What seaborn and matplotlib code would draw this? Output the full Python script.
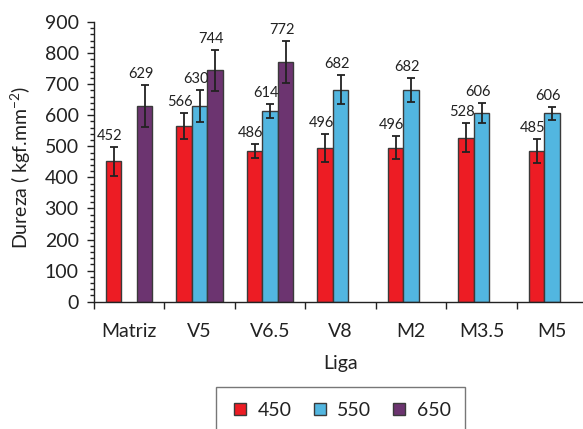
import matplotlib
matplotlib.use("Agg")
import matplotlib.pyplot as plt
from matplotlib.lines import Line2D
from matplotlib.ticker import MultipleLocator
import pandas as pd
import seaborn as sns

# Alloys on the x axis and the three treatment temperatures
ligas = ["Matriz", "V5", "V6.5", "V8", "M2", "M3.5", "M5"]
temps = ["450", "550", "650"]

# Hardness values (None = not measured) and error bar half-widths
dureza_450 = [452, 566, 486, 496, 496, 528, 485]
dureza_550 = [None, 630, 614, 682, 682, 606, 606]
dureza_650 = [629, 744, 772, None, None, None, None]
erro_450 = [46, 42, 23, 45, 38, 47, 40]
erro_550 = [None, 52, 23, 46, 38, 32, 20]
erro_650 = [68, 66, 68, None, None, None, None]

cores = ["#ED1C24", "#52B6E0", "#6C3470"]
borda = "#3a3a3a"

rows = []
for temp, vals, errs in zip(temps, [dureza_450, dureza_550, dureza_650],
                            [erro_450, erro_550, erro_650]):
    for liga, v, e in zip(ligas, vals, errs):
        if v is not None:
            rows.append({"Liga": liga, "Temp": temp, "Dureza": v, "Erro": e})
df = pd.DataFrame(rows)

sns.set_theme(style="white")
plt.rcParams["font.family"] = ["Lato", "DejaVu Sans"]
plt.rcParams["mathtext.fontset"] = "custom"
plt.rcParams["mathtext.rm"] = "Lato"
plt.rcParams["mathtext.it"] = "Lato"
plt.rcParams["mathtext.default"] = "regular"

fig = plt.figure(figsize=(5.83, 4.29), dpi=100)
ax = fig.add_axes([0.1612, 0.2967, 0.8465, 0.6520])

sns.barplot(data=df, x="Liga", y="Dureza", hue="Temp", order=ligas,
            hue_order=temps, palette=cores, saturation=1, width=0.66,
            errorbar=None, edgecolor=borda, linewidth=1.0, legend=False,
            ax=ax)

# Error bars and value labels, placed on each drawn bar
nh = len(temps)
bw = 0.66 / nh
for p in ax.patches:
    h = p.get_height()
    if h is None or h != h or h == 0:
        continue
    xc = p.get_x() + p.get_width() / 2
    ci = int(round(xc))
    hi = int(round((xc - ci) / bw + (nh - 1) / 2))
    sel = df[(df["Liga"] == ligas[ci]) & (df["Temp"] == temps[hi])]
    if sel.empty:
        continue
    err = float(sel["Erro"].iloc[0])
    val = int(sel["Dureza"].iloc[0])
    ax.errorbar(xc, h, yerr=err, fmt="none", ecolor="#222222",
                elinewidth=1.3, capsize=3, capthick=1.3, zorder=4)
    ax.annotate(str(val), (xc, h + err), xytext=(-4, 4),
                textcoords="offset pixels", ha="center", va="bottom",
                fontsize=10.5, color="#222222")

ax.set_xlim(-0.5, len(ligas) - 0.5)
ax.set_ylim(0, 900)
ax.yaxis.set_major_locator(MultipleLocator(100))
ax.yaxis.set_minor_locator(MultipleLocator(20))

# Category labels at group centers, ticks at group boundaries
ax.set_xticks(range(len(ligas)))
ax.set_xticklabels(ligas)
ax.set_xticks([i - 0.5 for i in range(len(ligas) + 1)], minor=True)
ax.tick_params(axis="x", which="major", length=0, pad=15, labelsize=14,
               labelcolor="#222222")
ax.tick_params(axis="x", which="minor", length=5, width=1, color="#222222",
               direction="out", bottom=True)
ax.tick_params(axis="y", which="major", length=5, width=1, color="#222222",
               direction="out", left=True, pad=6, labelsize=14,
               labelcolor="#222222")
ax.tick_params(axis="y", which="minor", length=3, width=1, color="#222222",
               direction="out", left=True)

for s in ["top", "right"]:
    ax.spines[s].set_visible(False)
for s in ["left", "bottom"]:
    ax.spines[s].set_color("#222222")
    ax.spines[s].set_linewidth(1.0)

ax.set_ylabel("Dureza ( kgf.mm$^{-2}$)", fontsize=14, color="#222222")
ax.yaxis.set_label_coords(-0.123, 0.48)
ax.set_xlabel("Liga", fontsize=14, color="#222222")
ax.xaxis.set_label_coords(0.5, -0.19)

handles = [Line2D([0], [0], marker="s", linestyle="none", markersize=8,
                  markerfacecolor=c, markeredgecolor=borda,
                  markeredgewidth=1.0) for c in cores]
leg = fig.legend(handles, temps, ncol=3, loc="upper center",
                 bbox_to_anchor=(0.584, 0.0979), frameon=True,
                 fancybox=False, edgecolor="#555555", fontsize=14,
                 handletextpad=0.4, columnspacing=0.95, borderpad=0.75,
                 handlelength=1.0, borderaxespad=0)
leg.get_frame().set_linewidth(1.0)
for t in leg.get_texts():
    t.set_color("#222222")

fig.savefig("out.png", dpi=100)
